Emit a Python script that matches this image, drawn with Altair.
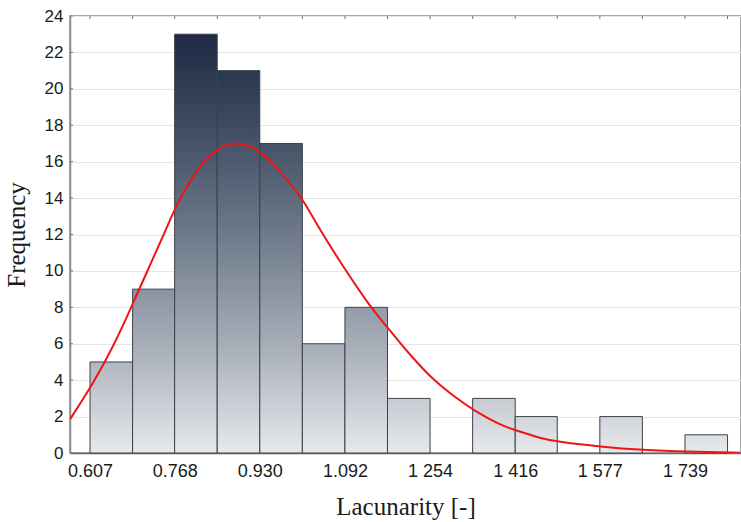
import altair as alt
import pandas as pd

# ---- data ----
tick_values = [0.607, 0.768, 0.930, 1.092, 1.254, 1.416, 1.577, 1.739]
tick_labels = ["0.607", "0.768", "0.930", "1.092", "1 254", "1 416", "1 577", "1 739"]

bin_starts = [0.607, 0.688, 0.768, 0.849, 0.930, 1.011, 1.092, 1.173,
              1.254, 1.335, 1.416, 1.496, 1.577, 1.658, 1.739]
bin_ends = [0.688, 0.768, 0.849, 0.930, 1.011, 1.092, 1.173, 1.254,
            1.335, 1.416, 1.496, 1.577, 1.658, 1.739, 1.820]
counts = [5, 9, 23, 21, 17, 6, 8, 3, 0, 3, 2, 0, 2, 0, 1]

curve_x = [0.5689, 0.6089, 0.6374, 0.6660, 0.6913, 0.7198, 0.7484, 0.7739,
           0.8024, 0.8277, 0.8530, 0.8816, 0.9101, 0.9356, 0.9672, 0.9927,
           1.0147, 1.0446, 1.0827, 1.1397, 1.1745, 1.2158, 1.2602, 1.3047,
           1.3363, 1.3871, 1.4156, 1.4632, 1.4980, 1.5773, 1.6597, 1.7390,
           1.8437]
curve_y = [1.85, 3.64, 5.10, 6.75, 8.40, 10.23, 12.06, 13.80,
           15.17, 16.18, 16.79, 17.06, 16.91, 16.46, 15.54, 14.62,
           13.80, 12.25, 10.50, 8.03, 6.85, 5.38, 4.00, 3.00,
           2.36, 1.54, 1.26, 0.81, 0.62, 0.35, 0.16, 0.07,
           0.02]

y_ticks = list(range(0, 25, 2))

# ---- styling ----
X_DOM = [0.5689, 1.8456]
Y_DOM = [0, 24]
W, H = 671, 437

# gradient colour stops over the full plot height (level -> colour)
grad_levels = [0, 6, 12, 18, 24]
grad_colors = ["#e7e9ec", "#a6adb7", "#6e7a8b", "#3e4b61", "#17243e"]


def _rgb(h):
    h = h.lstrip("#")
    return [int(h[i:i + 2], 16) for i in (0, 2, 4)]


def _hex(c):
    return "#" + "".join(f"{int(round(v)):02x}" for v in c)


def color_at(level):
    for i in range(len(grad_levels) - 1):
        a, b = grad_levels[i], grad_levels[i + 1]
        if a <= level <= b:
            t = (level - a) / (b - a)
            ca, cb = _rgb(grad_colors[i]), _rgb(grad_colors[i + 1])
            return _hex([ca[k] + (cb[k] - ca[k]) * t for k in range(3)])
    return grad_colors[-1]


def bar_gradient(h):
    stops = [alt.GradientStop(offset=0.0, color=color_at(h))]
    for lv, col in zip(grad_levels, grad_colors):
        if lv < h:
            stops.append(alt.GradientStop(offset=1 - lv / h, color=col))
    stops.sort(key=lambda s: s.offset)
    return alt.LinearGradient(gradient="linear", stops=stops, x1=0, x2=0, y1=0, y2=1)


x_scale = alt.Scale(domain=X_DOM, nice=False, zero=False)
y_scale = alt.Scale(domain=Y_DOM, nice=False)

label_expr = ""
for v, lab in zip(tick_values, tick_labels):
    label_expr += f"abs(datum.value - {v}) < 0.0005 ? '{lab}' : "
label_expr += "''"

x_axis = alt.Axis(
    values=tick_values, labelExpr=label_expr, grid=False, ticks=False,
    domainColor="#6a6a6a", domainWidth=1.5,
    labelFont="Liberation Sans", labelFontSize=18, labelColor="#1a1a1a",
    labelPadding=9, labelFlush=False,
    title="Lacunarity [-]", titleFont="Liberation Serif", titleFontSize=25,
    titleFontWeight="normal", titleColor="#1a1a1a", titlePadding=14,
)
y_axis = alt.Axis(
    values=y_ticks, grid=True, gridColor="#e6e6e6", gridWidth=1.2, ticks=False,
    domainColor="#8c8c8c", domainWidth=1.5,
    labelFont="Liberation Sans", labelFontSize=17, labelColor="#1a1a1a",
    labelPadding=7,
    title="Frequency", titleFont="Liberation Serif", titleFontSize=25,
    titleFontWeight="normal", titleColor="#1a1a1a", titlePadding=15,
)

curve_df = pd.DataFrame({"x": curve_x, "y": curve_y})
edges_df = pd.DataFrame({"e": bin_starts + [bin_ends[-1]]})
yt_df = pd.DataFrame({"t": y_ticks})

layers = []

for s, e, c in zip(bin_starts, bin_ends, counts):
    if c <= 0:
        continue
    d = pd.DataFrame({"s": [s], "e": [e], "c": [c]})
    layers.append(
        alt.Chart(d).mark_rect(fill=bar_gradient(c), stroke="#3b4049", strokeWidth=1).encode(
            x=alt.X("s:Q", scale=x_scale, axis=x_axis),
            x2="e:Q",
            y=alt.Y("c:Q", scale=y_scale, axis=y_axis),
            y2=alt.datum(0),
        )
    )

# inward ticks on top border at bin edges
layers.append(
    alt.Chart(edges_df).mark_rule(color="#777777", strokeWidth=1).encode(
        x=alt.X("e:Q", scale=x_scale, axis=x_axis),
        y=alt.value(0), y2=alt.value(3),
    )
)
# inward ticks on left axis
layers.append(
    alt.Chart(yt_df).mark_rule(color="#777777", strokeWidth=1).encode(
        y=alt.Y("t:Q", scale=y_scale, axis=y_axis),
        x=alt.value(0), x2=alt.value(3),
    )
)

# fitted curve
layers.append(
    alt.Chart(curve_df).mark_line(color="#f01414", strokeWidth=2, interpolate="basis", clip=True).encode(
        x=alt.X("x:Q", scale=x_scale, axis=x_axis),
        y=alt.Y("y:Q", scale=y_scale, axis=y_axis),
    )
)

chart = alt.layer(*layers).properties(
    width=W, height=H,
    padding={"left": 70, "top": 16, "right": 0, "bottom": 69},
    autosize=alt.AutoSizeParams(type="none"),
    background="white",
).configure_view(stroke="#8c8c8c", strokeWidth=1.5)

chart.save("out.html", embed_options={"renderer": "svg", "actions": False})
